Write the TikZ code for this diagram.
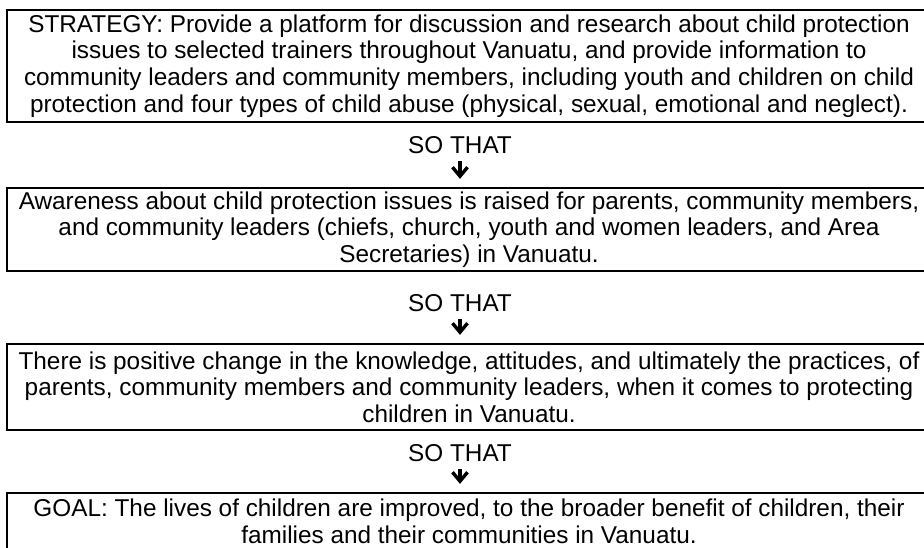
\documentclass[tikz,border=0pt]{standalone}
\usepackage{fontspec}
\setmainfont{Liberation Sans}
\usetikzlibrary{calc}
\newdimen\px \px=0.75pt
\begin{document}
\begin{tikzpicture}[x=0.75pt,y=-0.75pt,
  box/.style={draw=black, line width=1.6\px, inner sep=0pt, align=center,
    minimum width=924\px, font=\fontsize{18.25pt}{20pt}\selectfont},
  sothat/.style={inner sep=0pt, font=\fontsize{18.25pt}{20pt}\selectfont},
  stem/.style={line width=3.4\px, line join=miter, line cap=butt}]
\useasboundingbox (0,0) rectangle (924,547);
\clip (0,0) rectangle (924,547);
\fill[white] (0,0) rectangle (924,547);

\node[box, minimum height=112\px] (b1) at (469,66)
 {STRATEGY: Provide a platform for discussion and research about child protection\\
  issues to selected trainers throughout Vanuatu, and provide information to\\
  community leaders and community members, including youth and children on child\\
  protection and four types of child abuse (physical, sexual, emotional and neglect).};

\node[sothat] (s1) at (460,145) {SO THAT};

\node[box, minimum height=83\px] (b2) at (469,229.5)
 {Awareness about child protection issues is raised for parents, community members,\\
  and community leaders (chiefs, church, youth and women leaders, and Area\\
  Secretaries) in Vanuatu.};

\node[sothat] (s2) at (460,303) {SO THAT};

\node[box, minimum height=86\px] (b3) at (469,387)
 {There is positive change in the knowledge, attitudes, and ultimately the practices, of\\
  parents, community members and community leaders, when it comes to protecting\\
  children in Vanuatu.};

\node[sothat] (s3) at (460,453) {SO THAT};

\node[box, minimum height=57\px] (b4) at (469,521.5)
 {GOAL: The lives of children are improved, to the broader benefit of children, their\\
  families and their communities in Vanuatu.};

\foreach \s/\b/\i in {s1/b2/1, s2/b3/2, s3/b4/3}{
  \coordinate (t\i) at ($(\s.south |- \b.north)+(0,-11)$);
  \draw[stem] ($(\s.south)+(0,7)$) -- (t\i);
  \draw[stem] ($(t\i)+(-7.5,-9)$) -- (t\i) -- ($(t\i)+(7.5,-9)$);
}
\end{tikzpicture}
\end{document}
